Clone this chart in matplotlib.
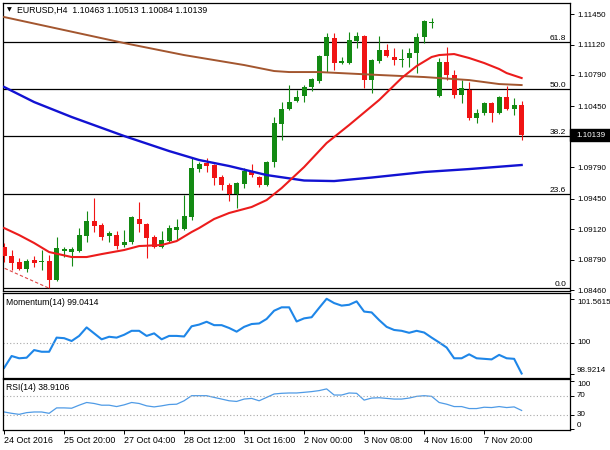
import matplotlib
matplotlib.use('Agg')
import matplotlib.pyplot as plt
from matplotlib.transforms import blended_transform_factory
from matplotlib.patches import Rectangle
import numpy as np

plt.rcParams['font.family'] = ['Liberation Sans', 'DejaVu Sans']

# ---------------- data ----------------
opens = [1.08926, 1.08829, 1.08764, 1.08688, 1.08785, 1.08764, 1.08775, 1.08569, 1.08883, 1.08872,
         1.08883, 1.09045, 1.09208, 1.09165, 1.09045, 1.09056, 1.08948, 1.08980, 1.09230, 1.09175,
         1.09035, 1.08926, 1.08991, 1.09110, 1.09121, 1.09251, 1.09771, 1.09836, 1.09815, 1.09685,
         1.09598, 1.09500, 1.09609, 1.09750, 1.09685, 1.09598, 1.09847, 1.10259, 1.10421, 1.10508,
         1.10562, 1.10660, 1.10725, 1.10995, 1.11190, 1.10920, 1.10920, 1.11158, 1.11212, 1.10735,
         1.10941, 1.11060, 1.10985, 1.10952, 1.10974, 1.11028, 1.11201, 1.11350, 1.10562, 1.10930,
         1.10790, 1.10573, 1.10627, 1.10324, 1.10378, 1.10486, 1.10378, 1.10551, 1.10421, 1.10463]
highs = [1.08970, 1.08894, 1.08807, 1.08796, 1.08829, 1.08894, 1.08840, 1.09035, 1.08926, 1.08926,
         1.09132, 1.09316, 1.09457, 1.09186, 1.09100, 1.09100, 1.09110, 1.09262, 1.09414, 1.09186,
         1.09056, 1.09100, 1.09165, 1.09230, 1.09490, 1.09890, 1.09847, 1.09890, 1.09825, 1.09706,
         1.09620, 1.09630, 1.09782, 1.09825, 1.09695, 1.09858, 1.10335, 1.10497, 1.10681, 1.10627,
         1.10681, 1.10757, 1.11006, 1.11245, 1.11245, 1.10985, 1.11255, 1.11255, 1.11223, 1.10963,
         1.11212, 1.11125, 1.11082, 1.11071, 1.11082, 1.11245, 1.11385, 1.11407, 1.10974, 1.11093,
         1.10844, 1.10735, 1.10714, 1.10421, 1.10497, 1.10497, 1.10562, 1.10670, 1.10540, 1.10513]
lows = [1.08764, 1.08677, 1.08677, 1.08655, 1.08710, 1.08677, 1.08480, 1.08558, 1.08818, 1.08720,
        1.08872, 1.08980, 1.09089, 1.09002, 1.08980, 1.08905, 1.08926, 1.08959, 1.09089, 1.08807,
        1.08915, 1.08915, 1.08980, 1.09002, 1.09110, 1.09219, 1.09739, 1.09739, 1.09598, 1.09544,
        1.09425, 1.09349, 1.09565, 1.09685, 1.09576, 1.09587, 1.09793, 1.10085, 1.10410, 1.10497,
        1.10497, 1.10616, 1.10703, 1.10822, 1.10844, 1.10909, 1.10909, 1.11082, 1.10649, 1.10595,
        1.10920, 1.10985, 1.10898, 1.10876, 1.10876, 1.10811, 1.11136, 1.11299, 1.10551, 1.10735,
        1.10540, 1.10486, 1.10302, 1.10270, 1.10356, 1.10280, 1.10367, 1.10410, 1.10356, 1.10084]
closes = [1.08829, 1.08753, 1.08688, 1.08775, 1.08753, 1.08775, 1.08569, 1.08915, 1.08905, 1.08905,
          1.09056, 1.09208, 1.09154, 1.09035, 1.09078, 1.08937, 1.08980, 1.09251, 1.09175, 1.09024,
          1.08926, 1.09002, 1.09132, 1.09143, 1.09262, 1.09782, 1.09825, 1.09804, 1.09674, 1.09598,
          1.09500, 1.09620, 1.09750, 1.09706, 1.09598, 1.09847, 1.10270, 1.10421, 1.10497, 1.10551,
          1.10660, 1.10746, 1.10995, 1.11201, 1.10920, 1.10941, 1.11169, 1.11212, 1.10735, 1.10952,
          1.11060, 1.10995, 1.10952, 1.10963, 1.11028, 1.11201, 1.11375, 1.11355, 1.10930, 1.10790,
          1.10573, 1.10649, 1.10324, 1.10378, 1.10486, 1.10378, 1.10551, 1.10421, 1.10464, 1.10139]

# moving averages (read at points along each line)
ma_red_idx = [0, 2, 4, 6, 9, 11, 13, 16, 18, 21, 23, 25, 26, 28, 30, 33, 35, 37, 38, 40,
              43, 46, 50, 53, 55, 57, 58, 60, 62, 64, 66, 67, 69]
ma_red_val = [1.09132, 1.09056, 1.08970, 1.08872, 1.08818, 1.08818, 1.08850, 1.08894, 1.08937, 1.08948,
              1.08991, 1.09089, 1.09132, 1.09230, 1.09295, 1.09360, 1.09435, 1.09565, 1.09641, 1.09793,
              1.10053, 1.10248, 1.10519, 1.10757, 1.10887, 1.10985, 1.11006, 1.11017, 1.10974, 1.10920,
              1.10855, 1.10811, 1.10757]
ma_brown_idx = [0, 8, 16, 24, 32, 36, 38, 42, 50, 56, 62, 66, 69]
ma_brown_val = [1.11418, 1.11277, 1.11136, 1.11006, 1.10898, 1.10833, 1.10822, 1.10822, 1.10790,
                1.10768, 1.10735, 1.10692, 1.10681]
ma_blue_idx = [0, 4, 9, 16, 22, 26, 30, 35, 40, 44, 49, 56, 62, 69]
ma_blue_val = [1.10660, 1.10497, 1.10335, 1.10129, 1.09966, 1.09869, 1.09804, 1.09706, 1.09647,
               1.09641, 1.09679, 1.09739, 1.09771, 1.09815]

momentum = [99.12, 99.54, 99.46, 99.48, 99.75, 99.69, 99.69, 100.19, 100.17, 100.07,
            100.25, 100.55, 100.34, 100.13, 100.22, 100.19, 100.29, 100.43, 100.43, 100.25,
            100.34, 100.13, 100.25, 100.25, 100.23, 100.59, 100.65, 100.75, 100.63, 100.63,
            100.53, 100.40, 100.57, 100.67, 100.69, 100.85, 101.14, 101.26, 101.26, 100.76,
            100.87, 100.91, 101.24, 101.5615, 101.41, 101.32, 101.35, 101.47, 101.11, 101.08,
            100.81, 100.57, 100.46, 100.43, 100.36, 100.43, 100.37, 100.19, 100.02, 99.84,
            99.46, 99.46, 99.60, 99.46, 99.44, 99.42, 99.58, 99.46, 99.44, 98.9214]
rsi = [35.7, 32.9, 30.7, 34.3, 35.7, 35.7, 32.9, 44.3, 44.3, 43.6,
       50.0, 55.7, 53.6, 50.0, 50.0, 47.1, 50.7, 55.7, 53.6, 48.6,
       46.4, 48.6, 51.4, 52.1, 59.3, 70.0, 70.0, 70.0, 66.4, 62.9,
       59.3, 57.9, 62.9, 64.3, 59.3, 66.4, 73.6, 75.0, 75.7, 75.7,
       77.1, 78.6, 80.7, 84.3, 71.4, 71.4, 75.7, 75.0, 60.7, 65.0,
       65.7, 64.3, 62.9, 62.9, 65.0, 68.6, 70.0, 68.6, 55.7, 52.1,
       47.1, 47.1, 42.9, 42.9, 45.7, 45.0, 47.1, 45.0, 46.4, 38.9]

fib_low = 1.0848
fib_high = 1.1280
fib_levels = [0.0, 23.6, 38.2, 50.0, 61.8]
fib_labels = ['0.0', '23.6', '38.2', '50.0', '61.8']
fib_low_idx = 6
trend_start_idx = -0.6
trend_start_val = 1.08720

price_ticks = [1.11450, 1.11120, 1.10790, 1.10450, 1.09790, 1.09450, 1.09120, 1.08790, 1.08460]
price_tick_labels = ['1.11450', '1.11120', '1.10790', '1.10450', '1.09790', '1.09450',
                     '1.09120', '1.08790', '1.08460']
mom_ticks = [101.5615, 100.0, 98.9214]
mom_tick_labels = ['101.5615', '100', '98.9214']
rsi_ticks = [100, 70, 30, 0]
rsi_tick_labels = ['100', '70', '30', '0']
date_idx = [0, 8, 16, 24, 32, 40, 48, 56, 64]
date_labels = ['24 Oct 2016', '25 Oct 20:00', '27 Oct 04:00', '28 Oct 12:00', '31 Oct 16:00',
               '2 Nov 00:00', '3 Nov 08:00', '4 Nov 16:00', '7 Nov 20:00']
title_main = 'EURUSD,H4  1.10463 1.10513 1.10084 1.10139'
title_mom = 'Momentum(14) 99.0414'
title_rsi = 'RSI(14) 38.9106'
last_price_label = '1.10139'

# ---------------- figure ----------------
GREEN = '#138a13'
RED = '#f01414'
fig = plt.figure(figsize=(6.1, 4.5), dpi=100)
L, W = 3 / 610, 567 / 610
ax = fig.add_axes([L, 1 - 291 / 450, W, 288 / 450])
axm = fig.add_axes([L, 1 - 378 / 450, W, 85 / 450])
axr = fig.add_axes([L, 1 - 429.6 / 450, W, 50.2 / 450])

XL = (-0.15, 75.45)
for a in (ax, axm, axr):
    a.set_xlim(*XL)
    for s in a.spines.values():
        s.set_linewidth(0.9)
        s.set_color('black')
    a.yaxis.tick_right()
    a.tick_params(axis='y', direction='out', length=3, width=0.7, pad=2,
                  labelsize=5.8, colors='black')
    a.set_xticks([])

# main panel
o = np.array(opens); h = np.array(highs); l = np.array(lows); c = np.array(closes)
x = np.arange(len(o))
cols = np.where(c >= o, GREEN, RED)
ax.vlines(x, l, h, colors=cols, lw=0.8, zorder=3)
body_b = np.minimum(o, c)
body_h = np.maximum(np.abs(c - o), 0.0001)
ax.bar(x, body_h, bottom=body_b, width=0.64, color=cols, lw=0, zorder=4)

ax.set_ylim(1.08450, 1.11570)
ax.set_yticks(price_ticks)
ax.set_yticklabels(price_tick_labels)

bt = blended_transform_factory(ax.transAxes, ax.transData)
for lev, lab in zip(fib_levels, fib_labels):
    p = fib_low + (fib_high - fib_low) * lev / 100.0
    ax.axhline(p, color='black', lw=0.9, zorder=2)
    ax.text(0.993, p, lab, transform=bt, ha='right', va='bottom', fontsize=6, zorder=6)
ax.plot([trend_start_idx, fib_low_idx], [trend_start_val, fib_low], color='#e04848',
        lw=0.8, ls=(0, (3, 2)), zorder=2)

ax.plot(ma_brown_idx, ma_brown_val, color='#a3562f', lw=1.4, zorder=5)
ax.plot(ma_blue_idx, ma_blue_val, color='#1212d2', lw=1.7, zorder=5)
ax.plot(ma_red_idx, ma_red_val, color='#ec1c1c', lw=1.5, zorder=5)

ax.add_patch(Rectangle((1.0, closes[-1] - 0.00066), 0.08, 0.00132, transform=bt,
                       facecolor='black', edgecolor='black', clip_on=False, zorder=7))
ax.text(1.0115, closes[-1], last_price_label, transform=bt, color='white', fontsize=5.8,
        va='center', ha='left', zorder=8, clip_on=False)

ax.text(0.0106, 0.976, '\u25bc', transform=ax.transAxes, fontsize=4.5, ha='center',
        va='center', family=['DejaVu Sans'])
ax.text(0.0247, 0.976, title_main, transform=ax.transAxes, fontsize=6.3, ha='left', va='center')

# momentum panel
axm.plot(x, momentum, color='#1e86e8', lw=1.5)
axm.axhline(100, color='#a8a8a8', lw=0.8, ls=(0, (1, 2)))
axm.set_ylim(98.763, 101.766)
axm.set_yticks(mom_ticks)
axm.set_yticklabels([])
bm = blended_transform_factory(axm.transAxes, axm.transData)
for v, lab, va in zip(mom_ticks, mom_tick_labels, ['top', 'center', 'bottom']):
    axm.text(1.0123, v, lab, transform=bm, fontsize=5.8, ha='left', va=va, clip_on=False)
axm.text(0.005, 0.892, title_mom, transform=axm.transAxes, fontsize=6.2, ha='left', va='center')

# RSI panel
axr.plot(x, rsi, color='#4f9be6', lw=0.9)
for lv in (70, 30):
    axr.axhline(lv, color='#a8a8a8', lw=0.8, ls=(0, (1, 2)))
axr.set_ylim(-1.4, 104.3)
axr.set_yticks(rsi_ticks)
axr.set_yticklabels([])
brr = blended_transform_factory(axr.transAxes, axr.transData)
for v, lab, va in zip(rsi_ticks, rsi_tick_labels, ['top', 'center', 'center', 'bottom']):
    axr.text(1.0123, v, lab, transform=brr, fontsize=5.8, ha='left', va=va, clip_on=False)
axr.text(0.005, 0.832, title_rsi, transform=axr.transAxes, fontsize=6.2, ha='left', va='center')

axr.set_xticks(date_idx)
axr.set_xticklabels(date_labels, ha='left', fontsize=6.4)
axr.tick_params(axis='x', direction='out', length=3, width=0.7, pad=1.5)

fig.savefig('out.png', dpi=100, facecolor='white')
